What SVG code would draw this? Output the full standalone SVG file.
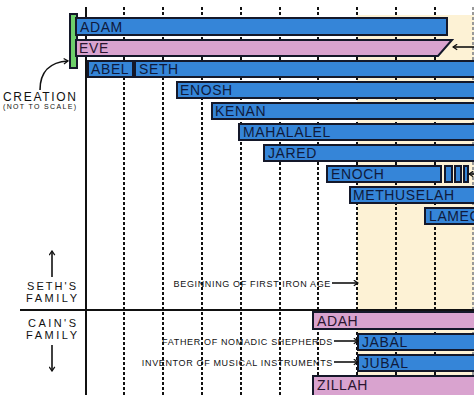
<svg xmlns="http://www.w3.org/2000/svg" width="474" height="395" viewBox="0 0 474 395">
<defs>
<style>
.bg{fill:#ffffff}
.tan{fill:#fdf2d5}
.dash{stroke:#111;stroke-width:2;stroke-dasharray:3 2;fill:none}
.solid{stroke:#111;stroke-width:2;fill:none}
.blue{fill:#3585d8;stroke:#14182a;stroke-width:2}
.pink{fill:#d9a3cf;stroke:#14182a;stroke-width:2}
.green{fill:#6dcf6a;stroke:#14182a;stroke-width:2}
.bt{font-family:"Liberation Sans",Arial,sans-serif;font-size:14px;fill:#0f1a3c;letter-spacing:0.6px}
.pt{font-family:"Liberation Sans",Arial,sans-serif;font-size:14px;fill:#2a1530;letter-spacing:0.6px}
.lab{font-family:"Liberation Sans",Arial,sans-serif;fill:#111}
.ann{font-family:"Liberation Sans",Arial,sans-serif;font-size:9px;fill:#111;text-anchor:end;letter-spacing:0.65px}
.arr{stroke:#111;stroke-width:1.6;fill:none}
</style>
<marker id="chev" viewBox="0 0 10 10" refX="9" refY="5" markerWidth="7" markerHeight="7" orient="auto" markerUnits="userSpaceOnUse">
<path d="M3,1 L9,5 L3,9" fill="none" stroke="#111" stroke-width="1.8"/>
</marker>
</defs>
<rect class="bg" x="0" y="0" width="474" height="395"/>
<rect class="tan" x="357" y="15" width="117" height="380"/>

<g id="grid">
<line class="solid" x1="86" y1="7" x2="86" y2="395"/>
<line class="dash" x1="124" y1="7" x2="124" y2="395"/>
<line class="dash" x1="163" y1="7" x2="163" y2="395"/>
<line class="dash" x1="202" y1="7" x2="202" y2="395"/>
<line class="dash" x1="241" y1="7" x2="241" y2="395"/>
<line class="dash" x1="280" y1="7" x2="280" y2="395"/>
<line class="dash" x1="318" y1="7" x2="318" y2="395"/>
<line class="dash" x1="357" y1="7" x2="357" y2="395"/>
<line class="dash" x1="396" y1="7" x2="396" y2="395"/>
<line class="dash" x1="435" y1="7" x2="435" y2="395"/>
<line class="dash" x1="473" y1="7" x2="473" y2="395" style="stroke:#999"/>
<line class="solid" x1="20" y1="310" x2="474" y2="310"/>
</g>

<g id="creation">
<rect class="green" x="70" y="14" width="7" height="54"/>
<text class="lab" x="3" y="101" font-size="12" textLength="73" lengthAdjust="spacing">CREATION</text>
<text class="lab" x="3" y="109" font-size="7" textLength="73" lengthAdjust="spacing">(NOT TO SCALE)</text>
</g>

<g id="adam"><rect class="blue" x="76" y="18" width="371" height="17"/><text class="bt" x="80" y="32">ADAM</text></g>
<g id="eve"><path class="pink" d="M76,40 L452,40 L438,56 L76,56 Z"/><text class="pt" x="79" y="53">EVE</text></g>
<g id="abel"><rect class="blue" x="88" y="61" width="45" height="16"/><text class="bt" x="91" y="74">ABEL</text></g>
<g id="seth"><rect class="blue" x="135" y="61" width="341" height="16"/><text class="bt" x="139" y="74">SETH</text></g>
<g id="enosh"><rect class="blue" x="177" y="82" width="299" height="16"/><text class="bt" x="180" y="95">ENOSH</text></g>
<g id="kenan"><rect class="blue" x="212" y="103" width="264" height="16"/><text class="bt" x="215" y="116">KENAN</text></g>
<g id="mahalalel"><rect class="blue" x="239" y="124" width="237" height="16"/><text class="bt" x="243" y="137">MAHALALEL</text></g>
<g id="jared"><rect class="blue" x="264" y="145" width="212" height="16"/><text class="bt" x="268" y="158">JARED</text></g>
<g id="enoch">
<rect class="blue" x="327" y="166" width="114" height="16"/><text class="bt" x="331" y="179">ENOCH</text>
<rect class="blue" x="445" y="166" width="7" height="16"/>
<rect class="blue" x="455" y="166" width="6" height="16"/>
<rect class="blue" x="464" y="166" width="4" height="16"/>
</g>
<g id="methuselah"><rect class="blue" x="350" y="187" width="126" height="16"/><text class="bt" x="353" y="200">METHUSELAH</text></g>
<g id="lamech"><rect class="blue" x="425" y="208" width="51" height="16"/><text class="bt" x="429" y="221">LAMECH</text></g>

<g id="adah"><rect class="pink" x="313" y="312" width="163" height="17"/><text class="pt" x="317" y="326">ADAH</text></g>
<g id="jabal"><rect class="blue" x="358" y="334" width="118" height="16"/><text class="bt" x="362" y="347">JABAL</text></g>
<g id="jubal"><rect class="blue" x="358" y="355" width="118" height="16"/><text class="bt" x="362" y="368">JUBAL</text></g>
<g id="zillah"><rect class="pink" x="313" y="376" width="163" height="20"/><text class="pt" x="317" y="390">ZILLAH</text></g>

<g id="labels">
<text class="lab" x="27" y="290" font-size="11" textLength="49" lengthAdjust="spacing">SETH'S</text>
<text class="lab" x="26" y="302" font-size="11" textLength="51" lengthAdjust="spacing">FAMILY</text>
<text class="lab" x="28" y="327" font-size="11" textLength="48" lengthAdjust="spacing">CAIN'S</text>
<text class="lab" x="26" y="339" font-size="11" textLength="51" lengthAdjust="spacing">FAMILY</text>
<text class="ann" x="331" y="286.5">BEGINNING OF FIRST IRON AGE</text>
<text class="ann" x="333" y="344.5">FATHER OF NOMADIC SHEPHERDS</text>
<text class="ann" x="333" y="365.5">INVENTOR OF MUSICAL INSTRUMENTS</text>
</g>

<g id="connectors">
<path class="arr" d="M40,90 C40,72 50,62 68,61" marker-end="url(#chev)"/>
<line class="arr" x1="474" y1="47" x2="453" y2="47" marker-end="url(#chev)"/>
<line class="arr" x1="474" y1="174" x2="469" y2="174" marker-end="url(#chev)"/>
<line class="arr" x1="52" y1="277" x2="52" y2="251" marker-end="url(#chev)"/>
<line class="arr" x1="52" y1="345" x2="52" y2="371" marker-end="url(#chev)"/>
<line class="arr" x1="332" y1="283" x2="358" y2="283" marker-end="url(#chev)"/>
<line class="arr" x1="334" y1="341" x2="358" y2="341" marker-end="url(#chev)"/>
<line class="arr" x1="334" y1="362" x2="358" y2="362" marker-end="url(#chev)"/>
</g>
</svg>
